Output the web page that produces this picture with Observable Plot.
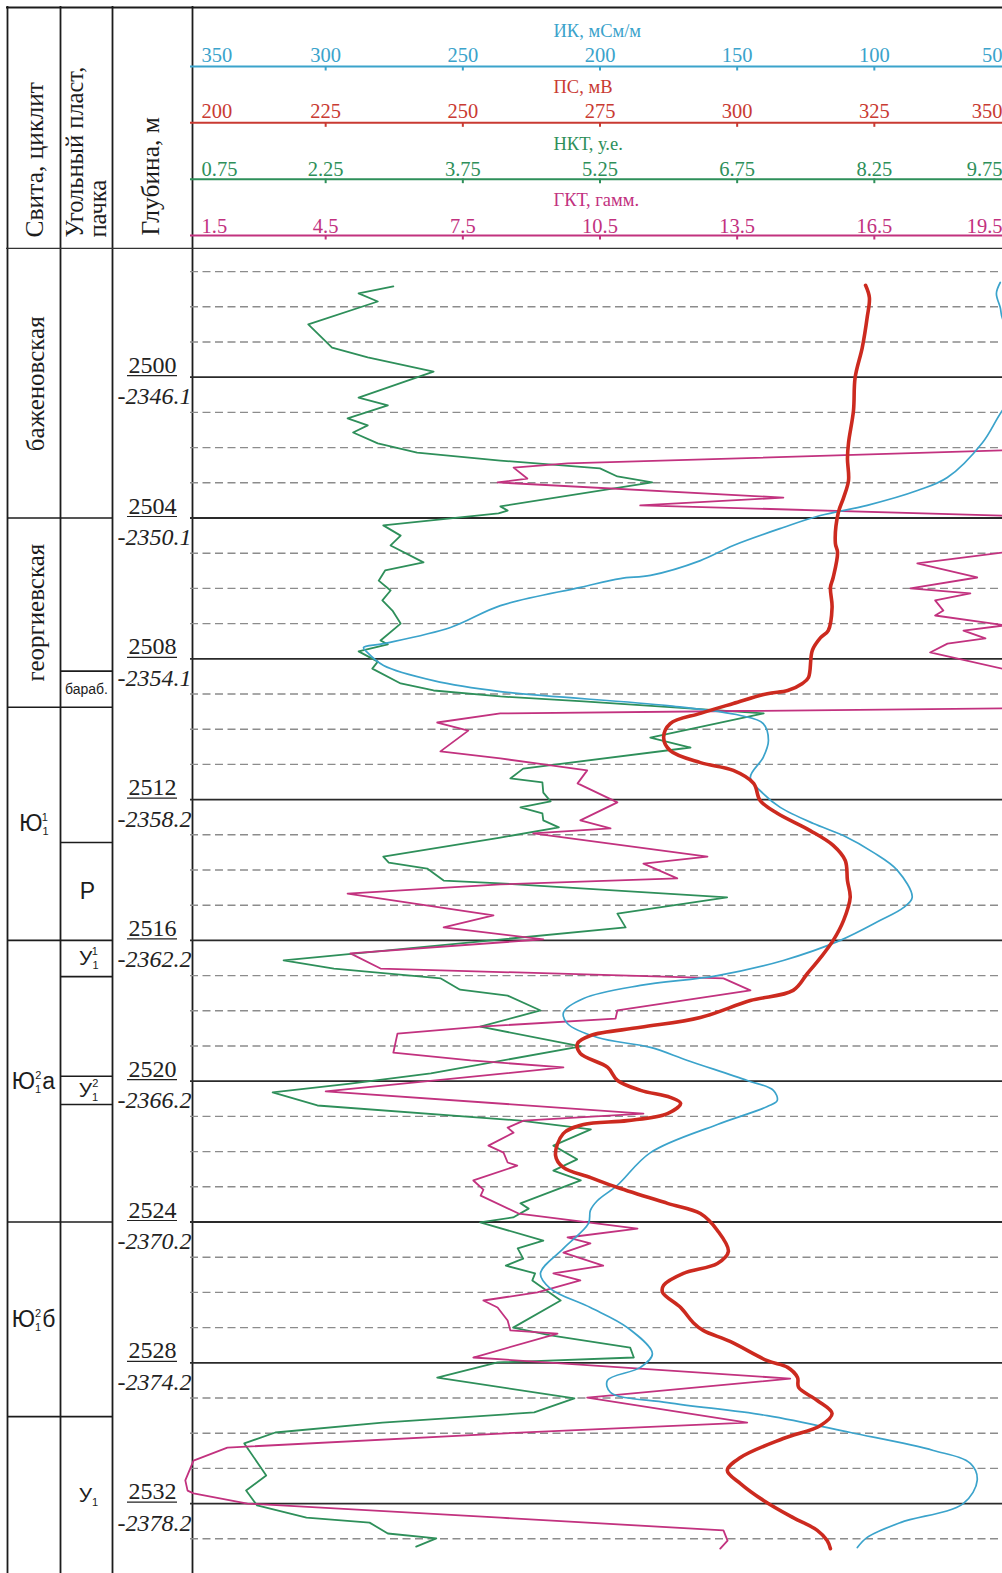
<!DOCTYPE html>
<html><head><meta charset="utf-8">
<script src="https://cdn.jsdelivr.net/npm/d3@7"></script>
<script src="https://cdn.jsdelivr.net/npm/@observablehq/plot@0.6"></script>
<style>
html,body{margin:0;padding:0;background:#fff;}
#chart{width:1002px;height:1573px;overflow:hidden;background:#fff;}
#chart svg{display:block;overflow:hidden;}
</style></head><body><div id="chart"></div>
<script>
// ---------- data ----------
const ikTicks  = [350, 300, 250, 200, 150, 100, 50];
const psTicks  = [200, 225, 250, 275, 300, 325, 350];
const nktTicks = [0.75, 2.25, 3.75, 5.25, 6.75, 8.25, 9.75];
const gkTicks  = [1.5, 4.5, 7.5, 10.5, 13.5, 16.5, 19.5];
const curveTitles = ["ИК, мСм/м", "ПС, мВ", "НКТ, у.е.", "ГКТ, гамм."];
const headerTitles = ["Свита, циклит", "Угольный пласт,", "пачка", "Глубина, м"];

const majorDepths = [2500, 2504, 2508, 2512, 2516, 2520, 2524, 2528, 2532];
const absDepths = ["-2346.1", "-2350.1", "-2354.1", "-2358.2", "-2362.2", "-2366.2", "-2370.2", "-2374.2", "-2378.2"];
const minorDepths = d3.range(2497, 2534).filter(d => d % 4 !== 0);

const svitaNames  = ["баженовская", "георгиевская", "Ю|1|1|", "Ю|1|2|а", "Ю|1|2|б", ""];
const svitaBounds = [2496.37, 2504, 2509.375, 2516, 2524, 2529.53, 2534];
const plastNames  = ["", "", "бараб.", "", "Р", "У|1|1|", "", "У|1|2|", "", "", "У|1||"];
const plastBounds = [2496.37, 2504, 2508.35, 2509.375, 2513.22, 2516, 2517.03, 2519.86, 2520.66, 2524, 2529.53, 2534];

// [depth, value]
const nktLog = [[2497.42,2.99],[2497.62,2.61],[2497.85,2.82],[2498.50,2.06],[2499.16,2.32],[2499.44,2.71],[2499.84,3.43],[2500.58,2.61],[2500.80,2.93],[2501.17,2.49],[2501.37,2.71],[2501.57,2.55],[2501.88,2.82],[2502.14,3.25],[2502.37,4.16],[2502.59,5.25],[2502.82,5.44],[2502.99,5.82],[2503.67,4.16],[2503.79,4.24],[2503.87,4.14],[2504.21,2.88],[2504.50,3.07],[2504.78,2.96],[2505.26,3.32],[2505.49,2.90],[2505.78,2.83],[2506.06,2.96],[2506.34,2.87],[2506.63,2.98],[2507.00,3.07],[2507.48,2.85],[2507.59,2.93],[2507.79,2.61],[2508.08,2.82],[2508.28,2.76],[2508.70,3.07],[2508.90,3.43],[2509.07,4.16],[2509.21,5.07],[2509.55,7.04],[2510.24,5.80],[2510.52,6.24],[2511.12,4.41],[2511.40,4.27],[2511.51,4.62],[2511.80,4.63],[2512.05,4.71],[2512.22,4.38],[2512.39,4.62],[2512.59,4.63],[2512.79,4.80],[2513.08,4.16],[2513.62,2.88],[2513.79,2.94],[2513.96,3.36],[2514.30,3.54],[2514.38,4.16],[2514.78,6.64],[2515.24,5.44],[2515.63,5.53],[2516.57,1.79],[2516.80,2.34],[2517.08,3.51],[2517.40,3.72],[2517.57,4.24],[2517.99,4.60],[2518.45,3.94],[2519.01,5.04],[2519.78,3.40],[2520.07,2.52],[2520.32,1.67],[2520.69,2.16],[2521.12,4.38],[2521.37,5.15],[2521.83,4.74],[2522.22,5.00],[2522.54,4.74],[2522.82,5.04],[2523.47,4.38],[2523.62,4.47],[2523.87,4.30],[2524.01,3.94],[2524.53,4.63],[2524.75,4.35],[2525.04,4.41],[2525.24,4.22],[2525.46,4.54],[2525.66,4.51],[2526.23,4.82],[2527.00,4.30],[2527.22,4.71],[2527.57,5.58],[2527.85,5.62],[2527.99,4.13],[2528.42,3.47],[2529.01,4.97],[2529.41,4.53],[2529.70,2.87],[2529.98,1.70],[2530.29,1.36],[2531.20,1.60],[2531.63,1.38],[2532.05,1.50],[2532.40,2.04],[2532.54,2.73],[2532.85,2.93],[2532.99,3.46],[2533.22,3.24]];

const gkLog = [[2501.80,21.44],[2502.08,19.30],[2502.45,9.79],[2502.57,8.61],[2502.88,8.91],[2502.99,8.26],[2503.42,14.51],[2503.64,11.38],[2503.93,19.30],[2504.07,21.44],[2504.87,21.44],[2504.98,19.30],[2505.29,17.44],[2505.69,18.75],[2506.00,17.29],[2506.14,18.60],[2506.34,17.83],[2506.63,18.01],[2506.77,17.83],[2507.05,19.36],[2507.20,18.45],[2507.42,18.93],[2507.57,18.10],[2507.82,17.72],[2508.28,19.30],[2508.62,21.44],[2509.18,21.44],[2509.41,19.30],[2509.55,8.32],[2509.81,6.94],[2510.04,7.62],[2510.63,7.01],[2510.83,8.32],[2511.17,10.22],[2511.54,10.01],[2512.08,10.88],[2512.59,10.07],[2512.82,10.73],[2512.96,9.04],[2513.62,12.85],[2513.82,11.45],[2514.24,12.19],[2514.41,8.32],[2514.67,4.98],[2515.29,8.17],[2515.63,7.08],[2515.97,9.26],[2516.37,5.04],[2516.80,5.70],[2517.08,13.20],[2517.42,13.79],[2517.99,10.88],[2518.22,10.84],[2518.45,7.89],[2518.65,6.07],[2519.19,5.98],[2519.41,7.67],[2519.61,9.70],[2520.29,4.50],[2520.92,11.45],[2521.12,8.83],[2521.32,8.48],[2521.46,8.61],[2521.83,8.06],[2522.03,8.39],[2522.31,8.48],[2522.40,8.69],[2522.82,7.73],[2523.08,7.95],[2523.25,7.89],[2523.76,8.72],[2524.19,11.32],[2524.44,9.79],[2524.61,10.29],[2524.87,9.70],[2525.24,10.57],[2525.46,9.48],[2525.66,10.07],[2526.00,9.13],[2526.23,7.95],[2526.43,8.26],[2526.80,8.48],[2527.08,8.54],[2527.17,9.57],[2527.85,7.73],[2528.45,14.66],[2528.99,10.22],[2529.70,13.72],[2530.01,8.32],[2530.41,2.35],[2530.78,1.61],[2531.34,1.43],[2531.63,1.48],[2531.71,1.61],[2532.00,2.79],[2532.40,8.32],[2532.76,13.20],[2533.05,13.29],[2533.28,13.13]];

const ikLog = [[2497.31,54.1],[2497.62,55.5],[2498.02,54.1],[2498.39,53.0],[2499.53,39.5],[2500.95,53.4],[2501.86,60.6],[2502.85,73.4],[2503.22,84.3],[2503.64,102.6],[2503.93,119.7],[2504.27,133.2],[2504.78,151.4],[2505.21,163.4],[2505.63,181.6],[2505.72,192.6],[2505.97,207.1],[2506.49,236.3],[2507.11,254.5],[2507.57,278.9],[2507.68,286.2],[2507.82,284.8],[2508.19,278.9],[2508.62,260.7],[2508.93,236.3],[2509.33,175.4],[2509.61,148.8],[2509.84,140.5],[2510.32,138.6],[2510.80,140.5],[2511.37,145.2],[2511.83,140.5],[2512.22,134.3],[2512.68,122.2],[2513.02,111.3],[2513.50,100.4],[2514.01,91.6],[2514.78,86.2],[2515.07,89.4],[2515.43,97.8],[2516.00,112.4],[2516.57,133.2],[2517.00,157.2],[2517.28,185.3],[2517.65,206.0],[2518.05,213.3],[2518.36,211.9],[2518.76,200.9],[2519.04,181.6],[2519.41,168.1],[2519.98,146.3],[2520.26,136.8],[2520.55,135.4],[2520.72,139.0],[2521.23,157.2],[2522.03,181.6],[2522.96,193.7],[2523.39,200.9],[2523.67,203.5],[2524.04,204.2],[2524.75,213.3],[2525.46,221.7],[2525.89,218.1],[2526.43,203.5],[2527.00,190.0],[2527.74,180.9],[2528.13,185.3],[2528.50,197.3],[2528.84,196.2],[2529.13,175.4],[2529.50,139.0],[2529.98,108.7],[2530.49,78.5],[2530.86,65.0],[2531.34,62.5],[2532.00,67.6],[2532.54,90.5],[2532.96,102.6],[2533.25,106.2]];

const psLog = [[2497.39,323.4],[2497.74,324.1],[2498.30,323.7],[2499.16,322.8],[2500.01,321.5],[2500.95,321.2],[2501.86,320.3],[2502.31,320.1],[2502.93,320.3],[2503.42,319.4],[2503.87,318.4],[2504.72,317.9],[2504.98,318.3],[2505.69,317.5],[2505.97,317.0],[2506.54,317.3],[2507.20,316.6],[2507.40,315.2],[2507.76,313.7],[2508.53,313.0],[2508.70,311.9],[2508.90,309.2],[2508.99,305.5],[2509.27,299.3],[2509.55,293.3],[2509.84,287.8],[2510.24,286.6],[2510.61,287.8],[2510.95,293.3],[2511.17,299.3],[2511.54,303.0],[2512.03,304.2],[2512.39,307.3],[2512.88,313.3],[2513.30,317.5],[2513.73,319.7],[2514.30,320.1],[2514.78,320.6],[2515.43,319.4],[2516.00,317.5],[2516.49,315.2],[2516.94,312.8],[2517.42,310.2],[2517.71,302.4],[2518.19,293.3],[2518.47,282.4],[2518.70,273.3],[2518.93,270.9],[2519.21,271.4],[2519.61,276.4],[2519.98,278.2],[2520.26,282.4],[2520.46,287.8],[2520.63,289.7],[2520.92,287.3],[2521.12,280.0],[2521.23,272.0],[2521.49,268.3],[2522.11,266.9],[2522.45,268.3],[2522.74,273.3],[2523.02,278.2],[2523.47,287.3],[2523.76,293.3],[2524.24,296.4],[2524.84,298.4],[2525.18,296.4],[2525.46,290.2],[2525.80,286.6],[2526.00,286.4],[2526.43,289.7],[2526.86,292.0],[2527.08,293.8],[2527.40,298.8],[2527.94,305.5],[2528.13,309.2],[2528.42,311.0],[2528.70,311.2],[2529.07,314.6],[2529.44,317.3],[2529.78,315.2],[2530.15,308.4],[2530.69,300.6],[2531.06,298.2],[2531.43,300.6],[2531.91,304.8],[2532.40,310.2],[2532.76,314.6],[2533.05,316.4],[2533.28,317.0]];

// ---------- layout / style ----------
const SERIF = "'Liberation Serif','Times New Roman',serif";
const SANS = "'Liberation Sans',Arial,sans-serif";
const INK = "#1c1c1c";
const C_IK = "#3ba3cb", C_PS = "#c93a32", C_NKT = "#2e8f5a", C_GK = "#c2327f";
const PX0 = 188, PX6 = 1011;
const ux = px => (px - PX0) / ((PX6 - PX0) / 6);
const xScale = {domain: [0, 6], range: [PX0, PX6]};
const toDiv = ticks => v => (v - ticks[0]) / (ticks[1] - ticks[0]);

const rows = [
  {title: curveTitles[0], ticks: ikTicks,  color: C_IK,  dy: -4.5},
  {title: curveTitles[1], ticks: psTicks,  color: C_PS,  dy: -5},
  {title: curveTitles[2], ticks: nktTicks, color: C_NKT, dy: -3},
  {title: curveTitles[3], ticks: gkTicks,  color: C_GK,  dy: -2.5}
];

// ---------- header ----------
const HR0 = 66, HR3 = 235, HSTEP = (HR3 - HR0) / 3;
const hy = px => (px - HR0) / HSTEP;
const hMarks = [
  Plot.ruleY([hy(7)], {x1: ux(6), x2: ux(1002), stroke: INK, strokeWidth: 2}),
  Plot.ruleX([ux(7), ux(60), ux(112), ux(192)], {y1: hy(6), y2: hy(249), stroke: INK, strokeWidth: 1.8}),
  Plot.ruleY([hy(248.5)], {x1: ux(6), x2: ux(1002), stroke: "#333", strokeWidth: 2.6}),
  Plot.text([headerTitles[0]], {x: ux(34), y: hy(237), text: d => d, rotate: -90, textAnchor: "start", lineAnchor: "middle", fontSize: 25.5, fontFamily: SERIF, fill: INK}),
  Plot.text([headerTitles[1]], {x: ux(75), y: hy(237), text: d => d, rotate: -90, textAnchor: "start", lineAnchor: "middle", fontSize: 24.5, fontFamily: SERIF, fill: INK}),
  Plot.text([headerTitles[2]], {x: ux(98), y: hy(237), text: d => d, rotate: -90, textAnchor: "start", lineAnchor: "middle", fontSize: 24.5, fontFamily: SERIF, fill: INK}),
  Plot.text([headerTitles[3]], {x: ux(150), y: hy(235), text: d => d, rotate: -90, textAnchor: "start", lineAnchor: "middle", fontSize: 25.5, fontFamily: SERIF, fill: INK})
];
rows.forEach((c, r) => {
  const idx = d3.range(c.ticks.length);
  hMarks.push(
    Plot.ruleY([r], {x1: ux(190), x2: ux(1002), stroke: c.color, strokeWidth: 2}),
    Plot.ruleX(idx.slice(1, -1), {x: i => i, y1: r, y2: r + 4.5 / HSTEP, stroke: c.color, strokeWidth: 2}),
    Plot.text(idx.slice(1, -1), {x: i => i, y: r, dy: c.dy, text: i => String(c.ticks[i]), textAnchor: "middle", lineAnchor: "bottom", fontSize: 20.5, fontFamily: SERIF, fill: c.color}),
    Plot.text([0], {x: i => i, y: r, dy: c.dy, dx: 13, text: i => String(c.ticks[i]), textAnchor: "start", lineAnchor: "bottom", fontSize: 20.5, fontFamily: SERIF, fill: c.color}),
    Plot.text([6], {x: i => i, y: r, dy: c.dy, dx: -9, text: i => String(c.ticks[i]), textAnchor: "end", lineAnchor: "bottom", fontSize: 20.5, fontFamily: SERIF, fill: c.color}),
    Plot.text([c.title], {x: ux(553), y: r, dy: -29.5, text: d => d, textAnchor: "start", lineAnchor: "bottom", fontSize: 18.5, fontFamily: SERIF, fill: c.color})
  );
});

const header = Plot.plot({
  width: 1002, height: 249,
  marginTop: 0, marginRight: 0, marginBottom: 0, marginLeft: 0,
  x: {...xScale, axis: null},
  y: {domain: [hy(0), hy(249)], range: [0, 249], axis: null},
  style: {background: "white", overflow: "hidden"},
  marks: hMarks
});

// ---------- log track ----------
const PXM = 35.2;            // pixels per metre
const Y2500 = 376.7 - 249;   // position of 2500 m inside lower svg
const yScale = {domain: [2500, 2532], range: [Y2500, Y2500 + 32 * PXM]};

const svita = svitaNames.map((name, i) => ({name, top: svitaBounds[i], bottom: svitaBounds[i + 1], mid: (svitaBounds[i] + svitaBounds[i + 1]) / 2}));
const plast = plastNames.map((name, i) => ({name, top: plastBounds[i], bottom: plastBounds[i + 1], mid: (plastBounds[i] + plastBounds[i + 1]) / 2}));

const lMarks = [
  Plot.ruleX([ux(7), ux(60), ux(112), ux(192)], {stroke: INK, strokeWidth: 1.8}),
  Plot.ruleY(svitaBounds.slice(1, -1), {x1: ux(7), x2: ux(60), stroke: INK, strokeWidth: 1.6}),
  Plot.ruleY(plastBounds.slice(1, -1), {x1: ux(60), x2: ux(112), stroke: INK, strokeWidth: 1.6}),
  Plot.ruleY(minorDepths, {x1: ux(190), x2: ux(1002), stroke: "#8c8c8c", strokeWidth: 1.4, strokeDasharray: "8,4.5"}),
  Plot.ruleY(majorDepths, {x1: ux(190), x2: ux(1002), stroke: "#2a2a2a", strokeWidth: 1.8}),
  // depth labels
  Plot.text(majorDepths, {x: ux(152), y: d => d, dy: -4.5, text: d => String(d), textAnchor: "middle", lineAnchor: "bottom", fontSize: 24, fontFamily: SERIF, fill: "#222"}),
  Plot.ruleY(majorDepths, {x1: ux(127), x2: ux(177), dy: -1.5, stroke: "#222", strokeWidth: 1.2}),
  Plot.text(majorDepths, {x: ux(191), y: d => d, dy: 27, text: (d, i) => absDepths[i], textAnchor: "end", lineAnchor: "bottom", fontSize: 24, fontStyle: "italic", fontFamily: SERIF, fill: "#222"}),
  // stratigraphy
  Plot.text(svita.filter(s => s.name && !s.name.includes("|")), {x: ux(35), y: d => d.mid, text: d => d.name, rotate: -90, textAnchor: "middle", lineAnchor: "middle", fontSize: 25, fontFamily: SERIF, fill: INK}),
  Plot.text(svita.filter(s => s.name.includes("|")), {x: ux(33), y: d => d.mid, text: d => d.name, textAnchor: "middle", lineAnchor: "middle", fontSize: 23, fontFamily: SANS, fill: INK}),
  Plot.text(plast.filter(s => s.name === "бараб."), {x: ux(86), y: d => d.mid, text: d => d.name, textAnchor: "middle", lineAnchor: "middle", fontSize: 14, fontFamily: SANS, fill: INK}),
  Plot.text(plast.filter(s => s.name === "Р"), {x: ux(87), y: d => d.mid, text: d => d.name, textAnchor: "middle", lineAnchor: "middle", fontSize: 23, fontFamily: SANS, fill: INK}),
  Plot.text(plast.filter(s => s.name.includes("|")), {x: ux(88), y: d => d.mid, text: d => d.name, textAnchor: "middle", lineAnchor: "middle", fontSize: 21, fontFamily: SANS, fill: INK}),
  // curves
  Plot.line(nktLog, {x: d => toDiv(nktTicks)(d[1]), y: d => d[0], stroke: C_NKT, strokeWidth: 1.8, curve: "linear"}),
  Plot.line(gkLog, {x: d => toDiv(gkTicks)(d[1]), y: d => d[0], stroke: C_GK, strokeWidth: 1.8, curve: "linear"}),
  Plot.line(ikLog, {x: d => toDiv(ikTicks)(d[1]), y: d => d[0], stroke: C_IK, strokeWidth: 1.7, curve: "catmull-rom"}),
  Plot.line(psLog, {x: d => toDiv(psTicks)(d[1]), y: d => d[0], stroke: "#cc2a1f", strokeWidth: 3.6, curve: "catmull-rom"})
];

const track = Plot.plot({
  width: 1002, height: 1324,
  marginTop: 0, marginRight: 0, marginBottom: 0, marginLeft: 0,
  x: {...xScale, axis: null},
  y: {...yScale, axis: null},
  style: {background: "white", overflow: "hidden"},
  marks: lMarks
});

// composite labels with stacked sub/superscripts: "base|sub|sup|tail"
d3.select(track).selectAll("text").each(function () {
  const t = this.textContent;
  if (!t.includes("|")) return;
  const [base, sub, sup, tail] = t.split("|");
  const sel = d3.select(this);
  sel.text(null);
  sel.append("tspan").text(base);
  sel.append("tspan").attr("font-size", 11).attr("dy", 4).text(sub);
  let back = -4;
  if (sup) { sel.append("tspan").attr("font-size", 11).attr("dx", -6).attr("dy", -14).text(sup); back = 10; }
  if (tail) sel.append("tspan").attr("dx", 1).attr("dy", back).text(tail);
});

const root = document.getElementById("chart");
root.appendChild(header);
root.appendChild(track);
</script>
</body></html>
